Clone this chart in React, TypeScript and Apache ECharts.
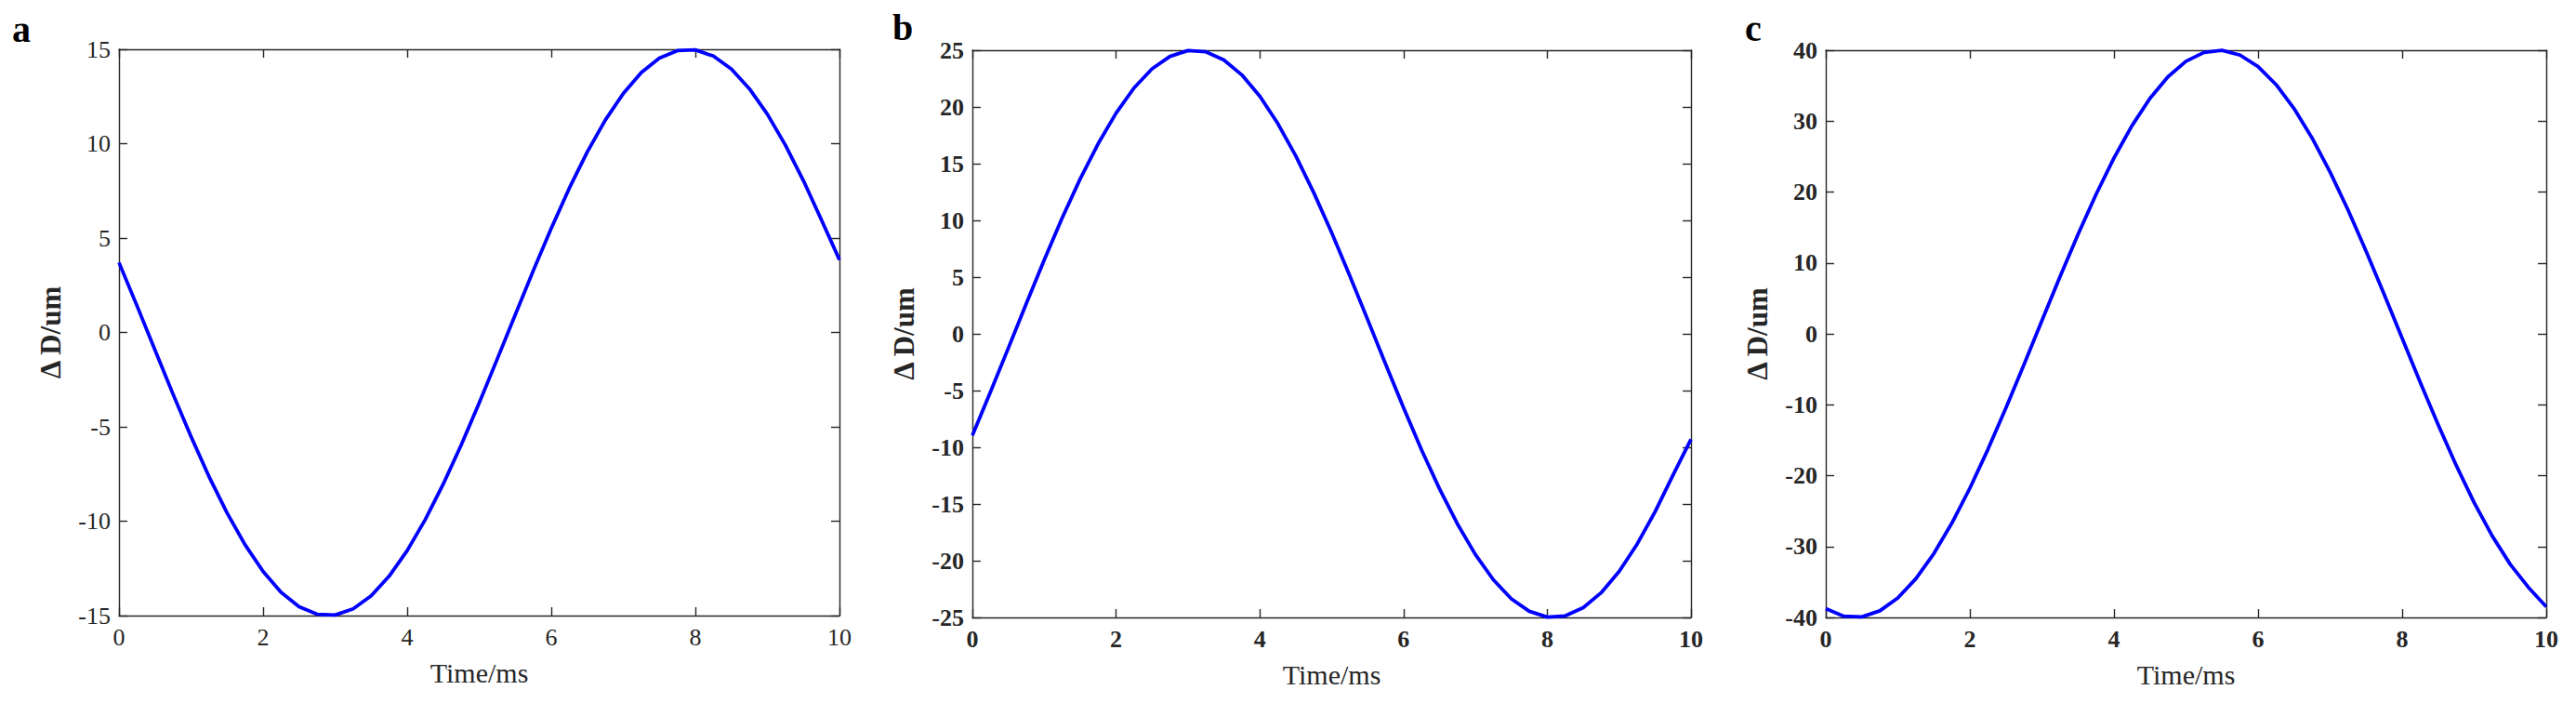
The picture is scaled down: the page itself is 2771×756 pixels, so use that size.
import React, { useEffect, useRef } from "react";
import * as echarts from "echarts";

const timeMs = [
  0, 0.25, 0.5, 0.75, 1, 1.25, 1.5, 1.75, 2, 2.25, 2.5, 2.75, 3, 3.25, 3.5, 3.75, 4, 4.25, 4.5, 4.75, 5,
  5.25, 5.5, 5.75, 6, 6.25, 6.5, 6.75, 7, 7.25, 7.5, 7.75, 8, 8.25, 8.5, 8.75, 9, 9.25, 9.5, 9.75, 10,
];

const seriesA = [
  3.7, 1.41, -0.94, -3.27, -5.52, -7.64, -9.56, -11.25, -12.66, -13.77, -14.53, -14.93, -14.97, -14.64,
  -13.95, -12.91, -11.56, -9.92, -8.04, -5.96, -3.73, -1.41, 0.94, 3.27, 5.52, 7.64, 9.56, 11.25, 12.66,
  13.77, 14.53, 14.93, 14.97, 14.64, 13.95, 12.91, 11.56, 9.92, 8.04, 5.96, 3.85,
];

const seriesB = [
  -8.95, -5.15, -1.26, 2.67, 6.52, 10.22, 13.66, 16.76, 19.46, 21.68, 23.36, 24.46, 24.97, 24.86, 24.14,
  22.82, 20.94, 18.54, 15.69, 12.45, 8.91, 5.15, 1.26, -2.67, -6.52, -10.22, -13.66, -16.76, -19.46,
  -21.68, -23.36, -24.46, -24.97, -24.86, -24.14, -22.82, -20.94, -18.54, -15.69, -12.45, -9.3,
];

const seriesC = [
  -38.77, -39.83, -39.92, -39.06, -37.25, -34.54, -30.99, -26.7, -21.77, -16.31, -10.45, -4.35, 1.86,
  8.03, 14.0, 19.64, 24.81, 29.36, 33.22, 36.27, 38.44, 39.69, 39.98, 39.31, 37.68, 35.15, 31.76, 27.61,
  22.8, 17.44, 11.65, 5.58, -0.62, -6.81, -12.83, -18.55, -23.82, -28.51, -32.51, -35.73, -38.5,
];

const panelLetters = ["a", "b", "c"];
const yRanges = [
  { min: -15, max: 15, interval: 5 },
  { min: -25, max: 25, interval: 5 },
  { min: -40, max: 40, interval: 10 },
];
const xRange = { min: 0, max: 10, interval: 2 };
const xTitle = "Time/ms";
const yTitle = "Δ D/um";

const grids = [
  { left: 128, top: 53, width: 775, height: 609 },
  { left: 1046, top: 54, width: 773, height: 610 },
  { left: 1964, top: 54, width: 775, height: 610 },
];
const letterPos = [
  { x: 13, y: 31 },
  { x: 960, y: 29 },
  { x: 1877, y: 30 },
];

const AX = "#262626";
const FONT = "'Liberation Serif', 'Times New Roman', serif";

export default function App() {
  const ref = useRef<HTMLDivElement>(null);
  useEffect(() => {
    if (!ref.current) return;
    const chart = echarts.init(ref.current, undefined, { renderer: "svg" });
    const all = [seriesA, seriesB, seriesC];
    const xAxis: any[] = [];
    const yAxis: any[] = [];
    const series: any[] = [];
    grids.forEach((g, i) => {
      const labelWeight = i === 0 ? "normal" : "bold";
      const axisLine = { show: true, onZero: false, lineStyle: { color: AX, width: 1.4 } };
      const axisTick = { show: true, inside: true, length: 9, lineStyle: { color: AX, width: 1.4 } };
      xAxis.push({
        type: "value",
        gridIndex: i,
        ...xRange,
        position: "bottom",
        axisLine,
        axisTick,
        splitLine: { show: false },
        axisLabel: { color: AX, fontFamily: FONT, fontSize: 26, fontWeight: labelWeight, margin: 10 },
        name: xTitle,
        nameLocation: "middle",
        nameGap: 46,
        nameTextStyle: { color: AX, fontFamily: FONT, fontSize: 30 },
      });
      xAxis.push({
        type: "value",
        gridIndex: i,
        ...xRange,
        position: "top",
        axisLine,
        axisTick,
        splitLine: { show: false },
        axisLabel: { show: false },
      });
      yAxis.push({
        type: "value",
        gridIndex: i,
        ...yRanges[i],
        position: "left",
        axisLine,
        axisTick,
        splitLine: { show: false },
        axisLabel: { color: AX, fontFamily: FONT, fontSize: 26, fontWeight: labelWeight, margin: 9 },
        name: yTitle,
        nameLocation: "middle",
        nameGap: 58,
        nameTextStyle: { color: AX, fontFamily: FONT, fontSize: 31, fontWeight: "bold" },
      });
      yAxis.push({
        type: "value",
        gridIndex: i,
        ...yRanges[i],
        position: "right",
        axisLine,
        axisTick,
        splitLine: { show: false },
        axisLabel: { show: false },
      });
      series.push({
        type: "line",
        xAxisIndex: i * 2,
        yAxisIndex: i * 2,
        showSymbol: false,
        smooth: false,
        lineStyle: { color: "#0000ff", width: 3.8, join: "round" },
        data: timeMs.map((t, k) => [t, all[i][k]]),
      });
    });
    chart.setOption({
      animation: false,
      backgroundColor: "#ffffff",
      grid: grids.map((g) => ({ ...g, containLabel: false })),
      xAxis,
      yAxis,
      series,
      graphic: panelLetters.map((l, i) => ({
        type: "text",
        x: letterPos[i].x,
        y: letterPos[i].y,
        style: {
          text: l,
          fill: "#000000",
          font: `bold 40px ${FONT}`,
          verticalAlign: "middle",
          align: "left",
        },
      })),
    });
    return () => chart.dispose();
  }, []);
  return (
    <div
      ref={ref}
      style={{ position: "fixed", left: 0, top: 0, width: 2771, height: 756, background: "#fff" }}
    />
  );
}
